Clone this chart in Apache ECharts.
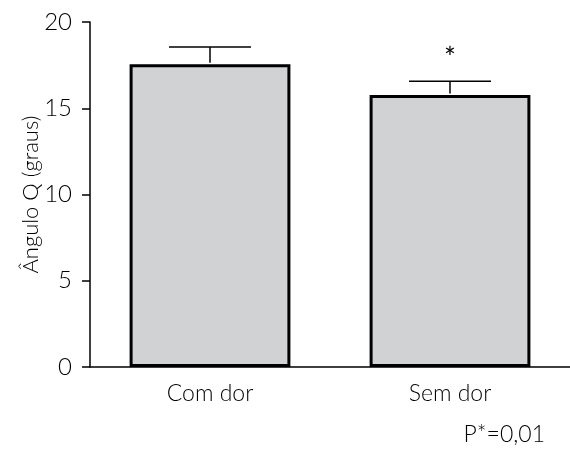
<!DOCTYPE html>
<html><head><meta charset="utf-8">
<script src="https://cdn.jsdelivr.net/npm/echarts@6/dist/echarts.min.js"></script>
<style>html,body{margin:0;padding:0;background:#fff}#c{width:570px;height:449px}</style>
</head><body><div id="c"></div>
<script>
const categories = ['Com dor', 'Sem dor'];
const means = [17.55, 15.77];
const errors = [1.0, 0.8];
const marks = ['', '*'];
const yTicks = [0, 5, 10, 15, 20];
const yName = 'Ângulo Q (graus)';
const note = 'P*=0,01';

const FONT = 'Lato';
const W = 300;
const chart = echarts.init(document.getElementById('c'), null, {renderer: 'canvas'});
chart.setOption({
  animation: false,
  backgroundColor: '#fff',
  grid: {left: 90, right: 0, top: 22, bottom: 82},
  xAxis: {
    type: 'category', data: categories,
    axisLine: {lineStyle: {color: '#000', width: 1.5}},
    axisTick: {alignWithLabel: true, length: 8, lineStyle: {color: '#000', width: 1.5}},
    axisLabel: {color: '#000', fontSize: 23, fontWeight: W, fontFamily: FONT, margin: 15}
  },
  yAxis: {
    type: 'value', min: yTicks[0], max: yTicks[yTicks.length - 1], interval: 5,
    name: yName, nameLocation: 'middle', nameGap: 48, nameRotate: 90, nameMoveOverlap: false,
    nameTextStyle: {color: '#000', fontSize: 22, fontWeight: W, fontFamily: FONT},
    axisLine: {show: true, lineStyle: {color: '#000', width: 1.5}},
    axisTick: {show: true, length: 8, lineStyle: {color: '#000', width: 1.5}},
    axisLabel: {color: '#000', fontSize: 24, fontWeight: W, fontFamily: FONT, margin: 18},
    splitLine: {show: false}
  },
  series: [
    {
      type: 'bar', data: means, barWidth: '67%',
      itemStyle: {color: '#d1d2d4', borderColor: '#000', borderWidth: 3},
      z: 2
    },
    {
      type: 'custom', z: 3,
      data: means.map((m, i) => [i, m, errors[i], marks[i]]),
      renderItem: function (params, api) {
        const i = api.value(0);
        const top = api.coord([i, api.value(1) + api.value(2)]);
        const base = api.coord([i, api.value(1)]);
        const half = 41;
        const children = [
          {type: 'line', shape: {x1: base[0], y1: base[1] - 1.5, x2: top[0], y2: top[1]}, style: {stroke: '#000', lineWidth: 1.5}},
          {type: 'line', shape: {x1: top[0] - half, y1: top[1], x2: top[0] + half, y2: top[1]}, style: {stroke: '#000', lineWidth: 1.5}}
        ];
        const mk = marks[i];
        if (mk) {
          children.push({type: 'text', style: {text: mk, x: top[0], y: top[1] - 22, align: 'center', verticalAlign: 'middle', fontSize: 28, fontFamily: FONT, fill: '#000'}});
        }
        return {type: 'group', children: children};
      }
    }
  ],
  graphic: [
    {type: 'text', right: 25, top: 423, style: {text: note, fontSize: 23, fontWeight: W, fontFamily: FONT, fill: '#000'}}
  ]
});
</script></body></html>
